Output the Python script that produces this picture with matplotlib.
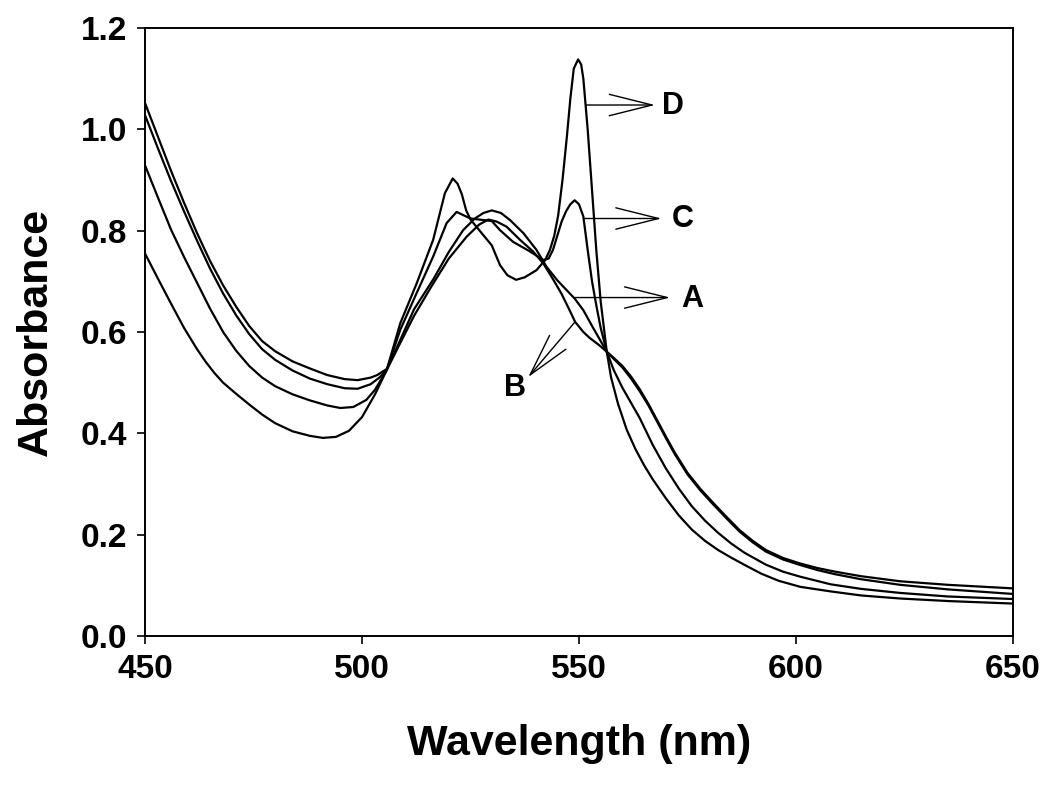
import matplotlib
matplotlib.use("Agg")
import matplotlib.pyplot as plt

# ---------------- data ----------------
wl_A = [450, 453, 456, 459, 462, 465, 468, 471, 474, 477, 480, 484, 488, 492, 496, 499, 502, 503.5,
        505.7, 507, 508.8, 512, 516.5, 520, 523.3, 526, 528, 529.9, 532, 534.1, 537.2, 540.2, 542.5,
        545, 547, 549, 551, 553, 555, 556.4, 558, 560, 562, 564, 566, 568, 570, 572, 575, 578, 581,
        584, 587, 590, 593, 597, 601, 605, 609, 615, 624, 635, 650]
abs_A = [1.052, 0.985, 0.918, 0.855, 0.795, 0.740, 0.692, 0.650, 0.612, 0.582, 0.562, 0.542, 0.528,
         0.515, 0.507, 0.505, 0.510, 0.515, 0.527, 0.550, 0.584, 0.645, 0.705, 0.758, 0.801, 0.824,
         0.835, 0.840, 0.835, 0.821, 0.795, 0.762, 0.729, 0.702, 0.684, 0.666, 0.643, 0.612, 0.582,
         0.561, 0.549, 0.533, 0.512, 0.487, 0.458, 0.426, 0.394, 0.363, 0.322, 0.290, 0.262, 0.235,
         0.209, 0.188, 0.170, 0.154, 0.143, 0.134, 0.127, 0.118, 0.108, 0.101, 0.094]

wl_B = [450, 453, 456, 459, 462, 465, 468, 471, 474, 477, 480, 484, 488, 492, 496, 499, 502, 504,
        505.7, 508.8, 512, 516, 520, 524.1, 527, 529.1, 531, 533.3, 536.4, 539.4, 541.8, 544.1, 546,
        548, 549.1, 551, 552.5, 554.5, 556.4, 558, 560, 562, 564, 566, 568, 570, 572, 575, 578, 581,
        584, 587, 590, 593, 597, 601, 605, 609, 615, 624, 635, 650]
abs_B = [1.028, 0.962, 0.898, 0.838, 0.780, 0.725, 0.676, 0.633, 0.596, 0.566, 0.545, 0.524, 0.508,
         0.497, 0.489, 0.488, 0.497, 0.510, 0.525, 0.578, 0.632, 0.690, 0.745, 0.788, 0.812, 0.822,
         0.818, 0.808, 0.782, 0.759, 0.735, 0.703, 0.675, 0.640, 0.620, 0.600, 0.588, 0.575, 0.561,
         0.547, 0.530, 0.508, 0.483, 0.455, 0.423, 0.391, 0.360, 0.319, 0.287, 0.259, 0.232, 0.206,
         0.185, 0.167, 0.151, 0.140, 0.130, 0.122, 0.112, 0.101, 0.092, 0.083]

wl_C = [450, 453, 456, 459, 462, 465, 468, 471, 474, 477, 480, 484, 488, 492, 495, 498, 501, 503,
        505.7, 508.8, 512.6, 516.4, 519.5, 521.8, 523.5, 525, 527.9, 529.9, 531.8, 534.8, 538.7,
        541.8, 543, 544, 545, 546, 547, 548, 549, 550, 551, 552, 553, 554, 555, 556.4, 558, 560, 562,
        564, 567, 570, 573, 576, 579, 582, 585, 588, 593, 597, 601, 608, 615, 624, 635, 650]
abs_C = [0.929, 0.865, 0.802, 0.748, 0.697, 0.646, 0.600, 0.563, 0.533, 0.510, 0.493, 0.477, 0.465,
         0.455, 0.450, 0.452, 0.466, 0.486, 0.525, 0.604, 0.677, 0.749, 0.815, 0.837, 0.830, 0.824,
         0.821, 0.819, 0.801, 0.778, 0.759, 0.742, 0.745, 0.762, 0.790, 0.818, 0.838, 0.852, 0.860,
         0.852, 0.828, 0.762, 0.700, 0.652, 0.608, 0.561, 0.525, 0.490, 0.460, 0.430, 0.377, 0.331,
         0.291, 0.256, 0.228, 0.204, 0.183, 0.165, 0.141, 0.127, 0.117, 0.102, 0.093, 0.085, 0.078,
         0.073]

wl_D = [450, 453, 456, 459, 462, 464, 466, 468, 471, 474, 477, 480, 484, 488, 491, 494, 497, 500,
        503, 505.7, 508.8, 512.6, 516.4, 519.1, 520.9, 522, 523, 524, 525, 527.3, 529.9, 531.8, 533.5,
        535.5, 537.5, 540.2, 542.2, 543.3, 544.3, 545.2, 546.2, 547.2, 548, 548.8, 549.8, 550.5, 551,
        552, 553, 554, 555, 556.4, 557.4, 559, 561, 563, 565, 567, 570, 573, 576, 579, 582, 585, 588,
        592, 596, 601, 608, 615, 624, 635, 650]
abs_D = [0.755, 0.705, 0.656, 0.608, 0.566, 0.541, 0.519, 0.500, 0.478, 0.457, 0.437, 0.420, 0.404,
         0.395, 0.391, 0.393, 0.405, 0.432, 0.477, 0.525, 0.617, 0.696, 0.782, 0.874, 0.903, 0.893,
         0.872, 0.840, 0.822, 0.798, 0.771, 0.732, 0.712, 0.703, 0.708, 0.722, 0.742, 0.762, 0.790,
         0.830, 0.900, 0.985, 1.060, 1.120, 1.138, 1.128, 1.100, 1.000, 0.880, 0.760, 0.660, 0.561,
         0.510, 0.458, 0.407, 0.369, 0.337, 0.309, 0.272, 0.238, 0.210, 0.188, 0.170, 0.155, 0.141,
         0.123, 0.109, 0.097, 0.088, 0.080, 0.074, 0.069, 0.064]

curve_labels = ["A", "B", "C", "D"]
# annotation: arrow start on curve (wl, abs), arrow tip (wl, abs), text position (wl, abs)
arrow_start = [(549.1, 0.668), (549.1, 0.620), (551.0, 0.824), (551.7, 1.048)]
arrow_tip = [(571.0, 0.668), (538.3, 0.511), (569.0, 0.824), (567.5, 1.048)]
label_pos = [(576.0, 0.666), (535.2, 0.489), (574.0, 0.824), (571.6, 1.047)]

x_ticks = [450, 500, 550, 600, 650]
y_ticks = [0.0, 0.2, 0.4, 0.6, 0.8, 1.0, 1.2]

# ---------------- figure ----------------
plt.rcParams['font.family'] = ['Liberation Sans', 'DejaVu Sans']
fig = plt.figure(figsize=(10.5, 7.86), dpi=100)
ax = fig.add_axes([145 / 1050, 1 - 636 / 786, (1013 - 145) / 1050, (636 - 28) / 786])

for wl, ab in [(wl_A, abs_A), (wl_B, abs_B), (wl_C, abs_C), (wl_D, abs_D)]:
    ax.plot(wl, ab, color='black', lw=1.6, solid_joinstyle='round')

for lab, s, t, p in zip(curve_labels, arrow_start, arrow_tip, label_pos):
    ax.annotate('', xy=t, xytext=s,
                arrowprops=dict(arrowstyle='->,head_length=2.2,head_width=0.55',
                                lw=1.0, color='black', shrinkA=0, shrinkB=0,
                                mutation_scale=14))
    ax.text(p[0], p[1], lab, fontsize=22, fontweight='bold', ha='center', va='center')

ax.set_xlim(450, 650)
ax.set_ylim(0, 1.2)
ax.set_xticks(x_ticks)
ax.set_yticks(y_ticks)
ax.set_xticklabels([str(v) for v in x_ticks])
ax.set_yticklabels([f"{v:.1f}" for v in y_ticks])
ax.tick_params(direction='out', length=6, width=1.2, labelsize=24, pad=7)
for lbl in ax.get_xticklabels() + ax.get_yticklabels():
    lbl.set_fontweight('bold')
for sp in ax.spines.values():
    sp.set_linewidth(1.4)

ax.set_xlabel('Wavelength (nm)', fontsize=31, fontweight='bold', labelpad=28)
ax.set_ylabel('Absorbance', fontsize=31, fontweight='bold', labelpad=18)

fig.savefig('out.png', dpi=100)
